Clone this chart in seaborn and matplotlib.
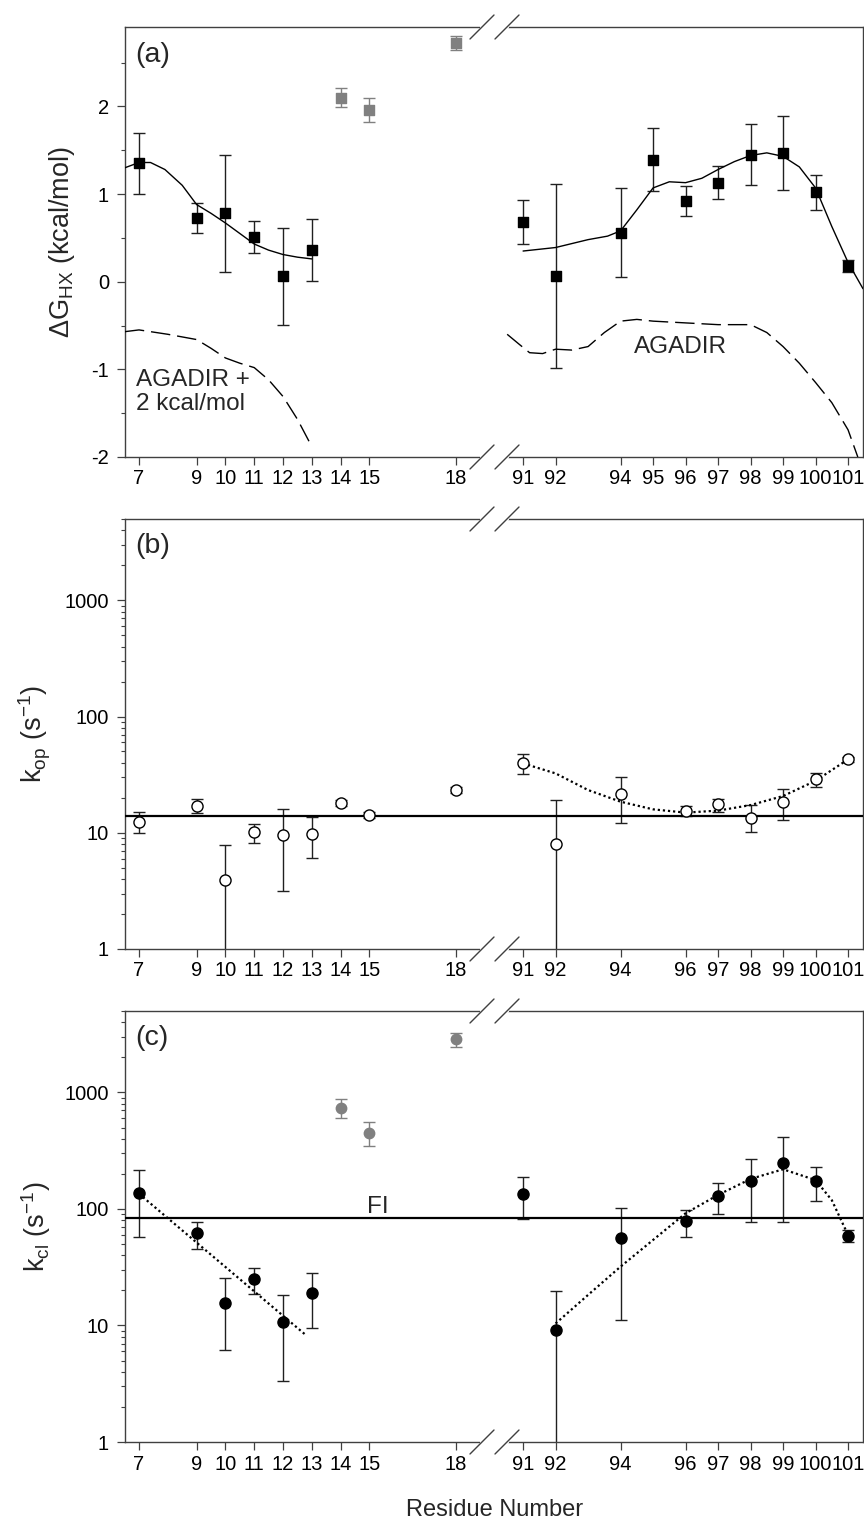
import numpy as np
import pandas as pd
import matplotlib
matplotlib.use("Agg")
import matplotlib.pyplot as plt
import seaborn as sns
from matplotlib.lines import Line2D
from matplotlib.ticker import FixedLocator, LogLocator, NullFormatter, FixedFormatter

# ---------------- data ----------------
# (a) Delta G_HX, black squares
res_a = [7, 9, 10, 11, 12, 13, 91, 92, 94, 95, 96, 97, 98, 99, 100, 101]
dg_a = [1.35, 0.73, 0.78, 0.51, 0.06, 0.36, 0.68, 0.07, 0.56, 1.39, 0.92, 1.13, 1.45, 1.47, 1.02, 0.18]
dg_err_a = [0.35, 0.17, 0.67, 0.18, 0.55, 0.35, 0.25, 1.05, 0.51, 0.36, 0.17, 0.19, 0.35, 0.42, 0.20, 0.07]
# (a) grey squares
res_a_grey = [14, 15, 18]
dg_a_grey = [2.10, 1.96, 2.72]
dg_err_a_grey = [0.11, 0.14, 0.08]

# (a) smooth fit through the data
fit_a_left_x = [6.51, 7.0, 7.4, 7.9, 8.5, 9.0, 9.5, 10.0, 10.5, 11.0, 11.5, 12.0, 12.5, 13.0]
fit_a_left_y = [1.30, 1.36, 1.36, 1.28, 1.10, 0.88, 0.78, 0.67, 0.55, 0.43, 0.36, 0.31, 0.28, 0.26]
fit_a_right_x = [91.0, 92.0, 93.0, 93.6, 94.0, 94.5, 95.0, 95.5, 96.0, 96.5, 97.0, 97.5, 98.0,
                 98.5, 99.0, 99.5, 100.0, 100.5, 101.0, 101.46]
fit_a_right_y = [0.35, 0.39, 0.48, 0.52, 0.58, 0.82, 1.07, 1.14, 1.13, 1.18, 1.28, 1.37, 1.44,
                 1.47, 1.43, 1.31, 1.07, 0.63, 0.22, -0.08]

# (a) AGADIR predictions (dashed)
agadir_left_x = [6.51, 7.0, 8.0, 9.0, 9.5, 10.0, 10.5, 11.0, 11.5, 12.0, 12.5, 12.9]
agadir_left_y = [-0.57, -0.55, -0.60, -0.66, -0.76, -0.87, -0.93, -0.98, -1.12, -1.31, -1.57, -1.82]
agadir_right_x = [90.51, 90.9, 91.2, 91.6, 92.0, 92.5, 93.0, 93.5, 94.0, 94.5, 95.0, 96.0, 97.0,
                  98.0, 98.5, 99.0, 99.5, 100.0, 100.5, 101.0, 101.3]
agadir_right_y = [-0.60, -0.72, -0.81, -0.82, -0.77, -0.78, -0.74, -0.58, -0.45, -0.43, -0.45,
                  -0.47, -0.49, -0.49, -0.58, -0.74, -0.93, -1.15, -1.38, -1.69, -2.0]

# (b) k_op, open circles
res_b = [7, 9, 10, 11, 12, 13, 14, 15, 18, 91, 92, 94, 96, 97, 98, 99, 100, 101]
kop = [12.4, 17.0, 3.9, 10.1, 9.6, 9.8, 18.1, 14.2, 23.3, 40.0, 8.0, 21.4, 15.4, 17.5, 13.5, 18.5, 28.8, 42.8]
kop_lo = [9.9, 14.7, 0.1, 8.2, 3.15, 6.1, 17.1, 13.4, 22.1, 31.8, 0.1, 12.2, 13.9, 15.1, 10.1, 12.9, 24.6, 40.8]
kop_hi = [15.0, 19.4, 7.8, 12.0, 16.0, 13.7, 19.2, 15.1, 24.6, 48.0, 19.1, 30.3, 17.0, 19.6, 17.3, 23.6, 32.4, 45.0]
kop_global = 14.0
fit_b_x = [91, 92, 93, 94, 95, 96, 97, 98, 99, 100, 101]
fit_b_y = [39.5, 32.4, 23.3, 18.5, 15.9, 14.9, 15.5, 17.3, 20.7, 28.0, 42.8]

# (c) k_cl, filled circles
res_c = [7, 9, 10, 11, 12, 13, 91, 92, 94, 96, 97, 98, 99, 100, 101]
kcl = [138, 61.8, 15.7, 24.9, 10.8, 18.9, 134, 9.15, 56.7, 78.9, 129, 174, 250, 174, 58.7]
kcl_lo = [57, 45, 6.1, 18.6, 3.34, 9.46, 82, 0.1, 11.1, 57.8, 90, 78, 78, 117, 51.8]
kcl_hi = [216, 77.8, 25.4, 31.3, 18.3, 28.4, 187, 19.8, 101, 98, 168, 269, 418, 231, 66]
res_c_grey = [14, 15, 18]
kcl_grey = [741, 452, 2862]
kcl_grey_lo = [600, 349, 2472]
kcl_grey_hi = [874, 555, 3260]
kcl_fi = 84.2
fit_c_left_x = [7.0, 12.76]
fit_c_left_y = [135, 8.4]
fit_c_right_x = [92, 93, 94, 95, 96, 97, 98, 99, 100, 100.5, 101]
fit_c_right_y = [10.4, 18.3, 32, 54.2, 91.8, 132, 181, 219, 177, 119, 59.8]

ticks_left = [7, 9, 10, 11, 12, 13, 14, 15, 18]
ticks_right_a = [91, 92, 94, 95, 96, 97, 98, 99, 100, 101]
ticks_right_bc = [91, 92, 94, 96, 97, 98, 99, 100, 101]

# ---------------- style ----------------
sns.set_style("ticks")
plt.rcParams['font.family'] = ['Liberation Sans', 'DejaVu Sans']
plt.rcParams['mathtext.default'] = 'regular'
plt.rcParams['axes.unicode_minus'] = False

SPINE = '#404040'
GREY = '#808080'

W, H = 864, 1519
fig = plt.figure(figsize=(W / 100, H / 100), dpi=100)

x_left, x_break, x_right = 125, 494.5, 863
panels = [(27, 457), (519, 949), (1011, 1442)]


def rect(x0, x1, top, bottom):
    return [x0 / W, 1 - bottom / H, (x1 - x0) / W, (bottom - top) / H]


def style_axes(axl, axr, right_ticks):
    for ax in (axl, axr):
        for s in ax.spines.values():
            s.set_color(SPINE)
            s.set_linewidth(1.0)
        ax.tick_params(which='major', direction='out', length=5.5, width=0.9,
                       color=SPINE, labelsize=14.5, labelcolor='black')
        ax.tick_params(which='minor', direction='out', length=3, width=0.8, color=SPINE)
        ax.tick_params(axis='x', pad=3.5)
        ax.tick_params(axis='y', pad=6)
        ax.set_xlabel('')
        ax.set_ylabel('')
    axl.spines['right'].set_visible(False)
    axr.spines['left'].set_visible(False)
    axr.tick_params(axis='y', which='both', left=False, labelleft=False)
    axl.set_xlim(6.514, 19.34)
    axr.set_xlim(90.12, 101.46)
    axl.set_xticks(ticks_left)
    axl.set_xticklabels([str(t) for t in ticks_left])
    axr.set_xticks(right_ticks)
    axr.set_xticklabels([str(t) for t in right_ticks])
    axl.xaxis.set_minor_locator(FixedLocator([]))
    axr.xaxis.set_minor_locator(FixedLocator([]))


def draw_points(axl, axr, res, val, lo, hi, marker, face, edge, size, ecol):
    df = pd.DataFrame({'res': res, 'val': val, 'lo': lo, 'hi': hi})
    for ax, part in ((axl, df[df.res < 50]), (axr, df[df.res > 50])):
        if part.empty:
            continue
        yerr = np.vstack([part.val - part.lo, part.hi - part.val])
        ax.errorbar(part.res, part.val, yerr=yerr, fmt='none', ecolor=ecol,
                    elinewidth=1.0, capsize=4.5, capthick=1.0, zorder=2)
        sns.scatterplot(data=part, x='res', y='val', ax=ax, marker=marker, s=size,
                        color=face, edgecolor=edge, linewidth=1.0, zorder=4, legend=False)


def draw_curve(ax, x, y, ls, lw):
    sns.lineplot(x=x, y=y, ax=ax, color='black', linestyle=ls, linewidth=lw,
                 estimator=None, sort=False, zorder=3)


axes = []
for top, bottom in panels:
    axl = fig.add_axes(rect(x_left, x_break, top, bottom))
    axr = fig.add_axes(rect(x_break, x_right, top, bottom), sharey=axl)
    axes.append((axl, axr))

# ---------------- (a) ----------------
axl, axr = axes[0]
draw_curve(axl, fit_a_left_x, fit_a_left_y, '-', 1.0)
draw_curve(axr, fit_a_right_x, fit_a_right_y, '-', 1.0)
draw_curve(axl, agadir_left_x, agadir_left_y, (0, (14, 5)), 1.0)
draw_curve(axr, agadir_right_x, agadir_right_y, (0, (14, 5)), 1.0)
draw_points(axl, axr, res_a, dg_a, np.subtract(dg_a, dg_err_a), np.add(dg_a, dg_err_a),
            's', 'black', 'black', 62, '#202020')
draw_points(axl, axr, res_a_grey, dg_a_grey, np.subtract(dg_a_grey, dg_err_a_grey),
            np.add(dg_a_grey, dg_err_a_grey), 's', GREY, GREY, 52, GREY)
style_axes(axl, axr, ticks_right_a)
axl.set_ylim(-2, 2.906)
axl.set_yticks([-2, -1, 0, 1, 2])
axl.set_yticklabels(['-2', '-1', '0', '1', '2'])
axl.yaxis.set_minor_locator(FixedLocator([-1.5, -0.5, 0.5, 1.5, 2.5]))
axl.set_ylabel(r'$\Delta$G$_{HX}$ (kcal/mol)', fontsize=19.5)
axl.yaxis.set_label_coords(-0.131, 0.5)
axl.text(0.027, 0.935, '(a)', transform=axl.transAxes, fontsize=20.5, ha='left', va='center')
axl.text(6.9, -1.0, 'AGADIR +\n2 kcal/mol', fontsize=17.5, ha='left', va='top', linespacing=1.1)
axr.text(95.85, -0.81, 'AGADIR', fontsize=17.5, ha='center', va='baseline')

# ---------------- (b) ----------------
axl, axr = axes[1]
axl.set_yscale('log')
for ax in (axl, axr):
    ax.axhline(kop_global, color='black', linewidth=1.6, zorder=3)
draw_curve(axr, fit_b_x, fit_b_y, (0, (1, 1.3)), 1.6)
draw_points(axl, axr, res_b, kop, kop_lo, kop_hi, 'o', 'white', 'black', 64, '#202020')
style_axes(axl, axr, ticks_right_bc)
axl.set_ylim(1, 5000)
axl.yaxis.set_major_locator(FixedLocator([1, 10, 100, 1000]))
axl.yaxis.set_major_formatter(FixedFormatter(['1', '10', '100', '1000']))
axl.yaxis.set_minor_locator(LogLocator(base=10, subs=np.arange(2, 10), numticks=20))
axl.yaxis.set_minor_formatter(NullFormatter())
axl.set_ylabel(r'k$_{op}$ (s$^{-1}$)', fontsize=19.5)
axl.yaxis.set_label_coords(-0.196, 0.5)
axl.text(0.027, 0.937, '(b)', transform=axl.transAxes, fontsize=20.5, ha='left', va='center')

# ---------------- (c) ----------------
axl, axr = axes[2]
axl.set_yscale('log')
for ax in (axl, axr):
    ax.axhline(kcl_fi, color='black', linewidth=1.6, zorder=3)
draw_curve(axl, fit_c_left_x, fit_c_left_y, (0, (1, 1.3)), 1.6)
draw_curve(axr, fit_c_right_x, fit_c_right_y, (0, (1, 1.3)), 1.6)
draw_points(axl, axr, res_c, kcl, kcl_lo, kcl_hi, 'o', 'black', 'black', 64, '#202020')
draw_points(axl, axr, res_c_grey, kcl_grey, kcl_grey_lo, kcl_grey_hi, 'o', GREY, GREY, 56, GREY)
style_axes(axl, axr, ticks_right_bc)
axl.set_ylim(1, 5000)
axl.yaxis.set_major_locator(FixedLocator([1, 10, 100, 1000]))
axl.yaxis.set_major_formatter(FixedFormatter(['1', '10', '100', '1000']))
axl.yaxis.set_minor_locator(LogLocator(base=10, subs=np.arange(2, 10), numticks=20))
axl.yaxis.set_minor_formatter(NullFormatter())
axl.set_ylabel(r'k$_{cl}$ (s$^{-1}$)', fontsize=19.5)
axl.yaxis.set_label_coords(-0.196, 0.5)
axl.text(0.027, 0.937, '(c)', transform=axl.transAxes, fontsize=20.5, ha='left', va='center')
axl.text(15.3, 92.4, 'FI', fontsize=17.5, ha='center', va='baseline')

# ---------------- axis break marks ----------------
for top, bottom in panels:
    for y in (top, bottom):
        fig.add_artist(Line2D([482 / W, 507 / W], [1 - y / H, 1 - y / H], color='white',
                              linewidth=3, transform=fig.transFigure, zorder=10))
        for cx in (482, 507):
            fig.add_artist(Line2D([(cx - 12) / W, (cx + 12) / W],
                                  [1 - (y + 12) / H, 1 - (y - 12) / H],
                                  color=SPINE, linewidth=1.0, transform=fig.transFigure, zorder=11))

fig.text(495 / W, 1 - 1516 / H, 'Residue Number', fontsize=17, ha='center', va='baseline')

fig.savefig('out.png', dpi=100)
